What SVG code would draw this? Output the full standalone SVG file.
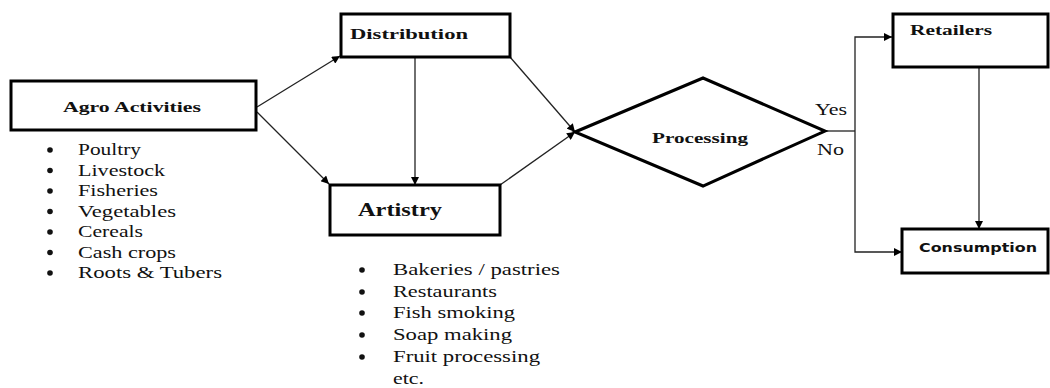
<svg xmlns="http://www.w3.org/2000/svg" width="1050" height="388" viewBox="0 0 1050 388">
<style>
.box{fill:#fff;stroke:#000;stroke-width:3}
.lbl{font-family:"Liberation Serif","Times New Roman",serif;font-weight:bold;fill:#111}
.sans{font-family:"DejaVu Sans","Liberation Sans",sans-serif;font-weight:bold;fill:#111}
.item{font-family:"Liberation Serif","Times New Roman",serif;fill:#111}
.con{fill:none;stroke:#222;stroke-width:1.3;marker-end:url(#ah)}
.line{fill:none;stroke:#222;stroke-width:1.3}
</style>
<defs>
<marker id="ah" viewBox="0 0 10 10" refX="10" refY="5" markerWidth="9" markerHeight="8" markerUnits="userSpaceOnUse" orient="auto">
<path d="M0,0 L10,5 L0,10 Z" fill="#000"/>
</marker>
</defs>
<rect width="1050" height="388" fill="#fff"/>

<g id="connectors">
<line class="con" x1="257" y1="107" x2="340" y2="56"/>
<line class="con" x1="257" y1="112" x2="329" y2="184"/>
<line class="con" x1="415" y1="57" x2="415" y2="185"/>
<line class="con" x1="510" y1="57" x2="575" y2="132"/>
<line class="con" x1="500" y1="185" x2="575" y2="132"/>
<polyline class="line" points="825,131 855,131"/>
<polyline class="con" points="855,131 855,37 892,37"/>
<polyline class="con" points="855,131 855,252 902,252"/>
<line class="con" x1="979" y1="67" x2="979" y2="229"/>
</g>

<g id="agro">
<rect class="box" x="11" y="81" width="245" height="49"/>
<text class="lbl" x="63" y="112" font-size="14" textLength="138" lengthAdjust="spacingAndGlyphs">Agro Activities</text>
<g class="item" font-size="16">
<circle cx="50" cy="150" r="2.8"/><text x="78" y="155" textLength="63" lengthAdjust="spacingAndGlyphs">Poultry</text>
<circle cx="50" cy="170.5" r="2.8"/><text x="78" y="175.5" textLength="87" lengthAdjust="spacingAndGlyphs">Livestock</text>
<circle cx="50" cy="191" r="2.8"/><text x="78" y="196" textLength="80" lengthAdjust="spacingAndGlyphs">Fisheries</text>
<circle cx="50" cy="211.5" r="2.8"/><text x="78" y="216.5" textLength="98" lengthAdjust="spacingAndGlyphs">Vegetables</text>
<circle cx="50" cy="232" r="2.8"/><text x="78" y="237" textLength="65" lengthAdjust="spacingAndGlyphs">Cereals</text>
<circle cx="50" cy="252.5" r="2.8"/><text x="78" y="257.5" textLength="98" lengthAdjust="spacingAndGlyphs">Cash crops</text>
<circle cx="50" cy="273" r="2.8"/><text x="78" y="278" textLength="144" lengthAdjust="spacingAndGlyphs">Roots &amp; Tubers</text>
</g>
</g>

<g id="distribution">
<rect class="box" x="341" y="14" width="169" height="43"/>
<text class="lbl" x="350" y="39" font-size="14" textLength="118" lengthAdjust="spacingAndGlyphs">Distribution</text>
</g>

<g id="artistry">
<rect class="box" x="330" y="185" width="170" height="50"/>
<text class="lbl" x="358" y="216" font-size="19" textLength="84" lengthAdjust="spacingAndGlyphs">Artistry</text>
<g class="item" font-size="17">
<circle cx="362" cy="270" r="2.8"/><text x="393" y="275" textLength="167" lengthAdjust="spacingAndGlyphs">Bakeries / pastries</text>
<circle cx="362" cy="292" r="2.8"/><text x="393" y="297" textLength="104" lengthAdjust="spacingAndGlyphs">Restaurants</text>
<circle cx="362" cy="313" r="2.8"/><text x="393" y="318" textLength="122" lengthAdjust="spacingAndGlyphs">Fish smoking</text>
<circle cx="362" cy="335" r="2.8"/><text x="393" y="340" textLength="119" lengthAdjust="spacingAndGlyphs">Soap making</text>
<circle cx="362" cy="357" r="2.8"/><text x="393" y="362" textLength="147" lengthAdjust="spacingAndGlyphs">Fruit processing</text>
<text x="393" y="384" textLength="31" lengthAdjust="spacingAndGlyphs">etc.</text>
</g>
</g>

<g id="processing">
<polygon points="575,132 703,78 825,131 703,186" fill="#fff" stroke="#000" stroke-width="3"/>
<text class="lbl" x="652" y="143" font-size="15" textLength="96" lengthAdjust="spacingAndGlyphs">Processing</text>
<text class="item" x="815" y="115" font-size="16" textLength="32" lengthAdjust="spacingAndGlyphs">Yes</text>
<text class="item" x="817" y="155" font-size="16" textLength="27" lengthAdjust="spacingAndGlyphs">No</text>
</g>

<g id="retailers">
<rect class="box" x="893" y="14" width="155" height="53"/>
<text class="lbl" x="910" y="35" font-size="14" textLength="82" lengthAdjust="spacingAndGlyphs">Retailers</text>
</g>

<g id="consumption">
<rect class="box" x="902" y="229" width="146" height="44"/>
<text class="sans" x="919" y="252" font-size="13" textLength="118" lengthAdjust="spacingAndGlyphs">Consumption</text>
</g>
</svg>
